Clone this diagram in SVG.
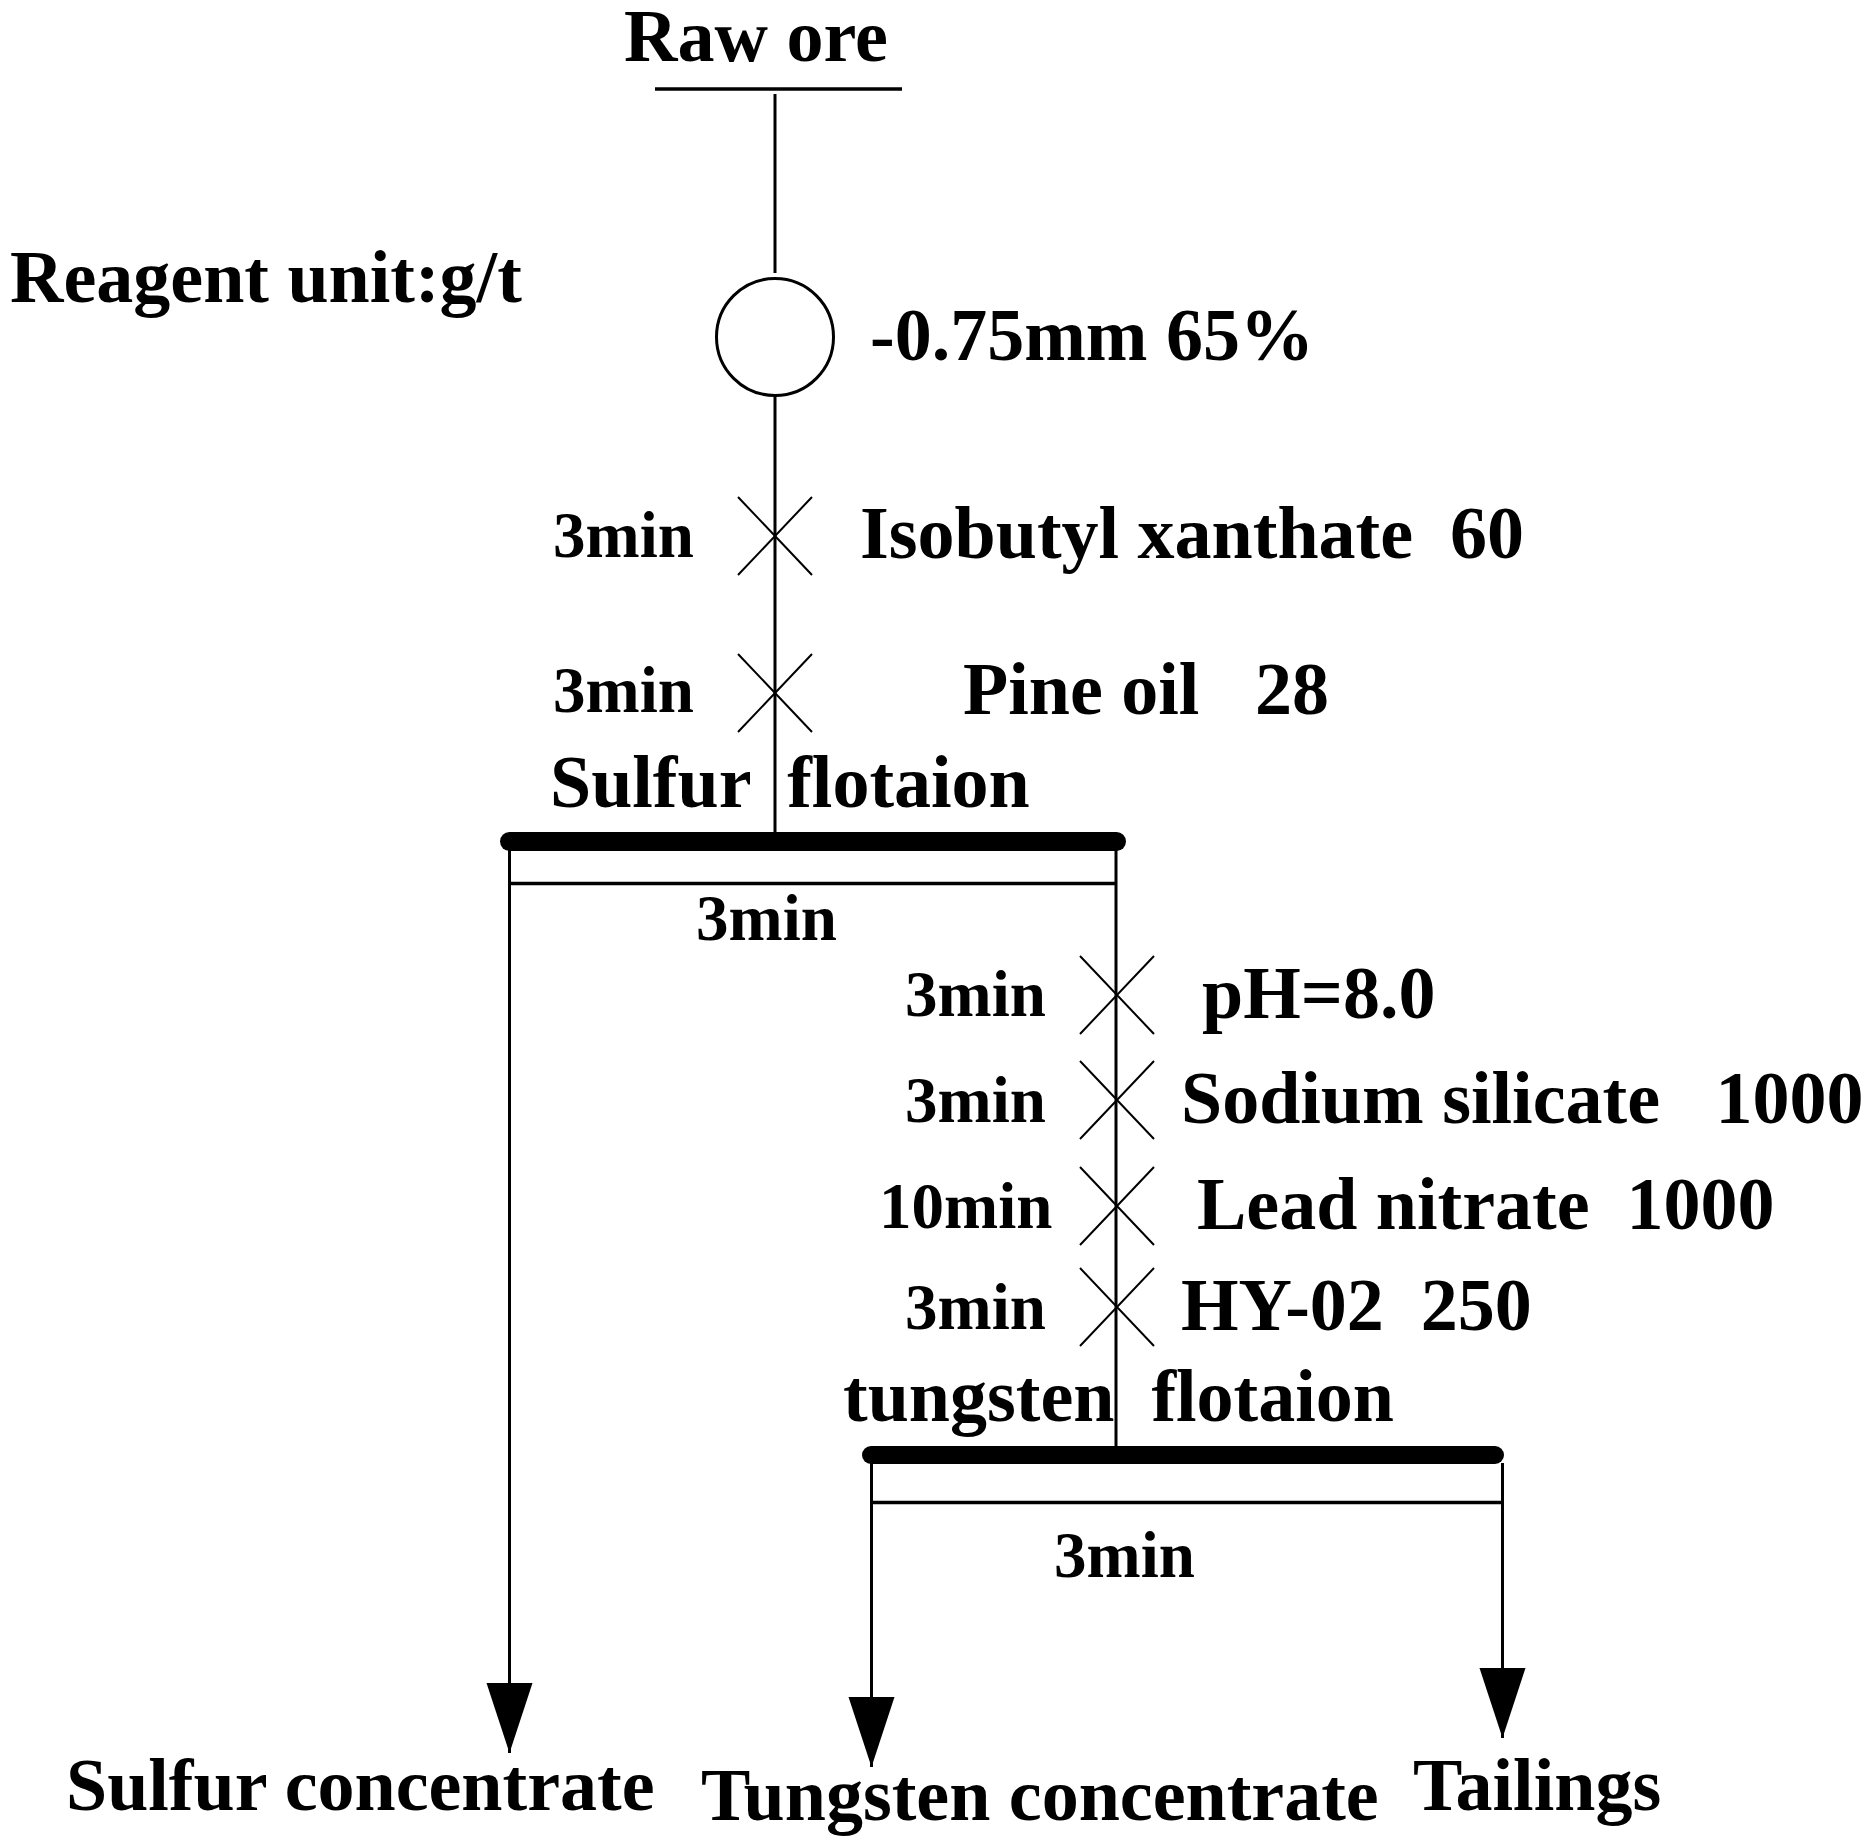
<svg xmlns="http://www.w3.org/2000/svg" xmlns:xlink="http://www.w3.org/1999/xlink" width="1874" height="1846" viewBox="0 0 1874 1846">
<style>
text{font-family:"Liberation Serif","Times New Roman",serif;font-weight:bold;font-size:74px;fill:#000}
text.t{font-size:65px}
.ln{stroke:#000;stroke-width:3;fill:none}
.sub{stroke:#000;stroke-width:3.5;fill:none}
.bar{fill:#000}
</style>
<defs>
<path id="xm" d="M-37,-39 L37,39 M37,-39 L-37,39" stroke="#000" stroke-width="2" fill="none"/>
<marker id="ah" markerUnits="userSpaceOnUse" markerWidth="48" markerHeight="72" viewBox="0 0 48 72" refX="24" refY="70" orient="0">
<path d="M1,0 L47,0 L24,70 Z" fill="#000"/>
</marker>
</defs>
<rect width="1874" height="1846" fill="#fff"/>
<text x="10" y="302">Reagent unit:g/t</text>
<g id="raw-ore">
<text x="624" y="61">Raw ore</text>
<line x1="655" y1="89" x2="902" y2="89" class="sub"/>
</g>
<g id="grinding">
<circle cx="775" cy="337" r="58.5" class="ln"/>
<text x="870" y="360">-0.75mm 65%</text>
</g>
<g id="reagent1">
<use xlink:href="#xm" x="775" y="536"/>
<text class="t" x="553" y="557">3min</text>
<text x="860" y="558" xml:space="preserve">Isobutyl xanthate  60</text>
</g>
<g id="reagent2">
<use xlink:href="#xm" x="775" y="693"/>
<text class="t" x="553" y="712">3min</text>
<text x="963" y="714" xml:space="preserve">Pine oil   28</text>
</g>
<g id="sulfur-flotation">
<text x="550" y="807" xml:space="preserve">Sulfur  flotaion</text>
<rect class="bar" x="500" y="832" width="626" height="19" rx="9.5"/>
<line x1="509.5" y1="883.5" x2="1116" y2="883.5" class="sub"/>
<text class="t" x="696" y="940">3min</text>
</g>
<g id="reagent3">
<use xlink:href="#xm" x="1117" y="995"/>
<text class="t" x="905" y="1016">3min</text>
<text x="1202" y="1018">pH=8.0</text>
</g>
<g id="reagent4">
<use xlink:href="#xm" x="1117" y="1100"/>
<text class="t" x="905" y="1122">3min</text>
<text x="1181" y="1123" xml:space="preserve">Sodium silicate   1000</text>
</g>
<g id="reagent5">
<use xlink:href="#xm" x="1117" y="1206"/>
<text class="t" x="879" y="1228">10min</text>
<text x="1197" y="1229" xml:space="preserve">Lead nitrate  1000</text>
</g>
<g id="reagent6">
<use xlink:href="#xm" x="1117" y="1307"/>
<text class="t" x="905" y="1329">3min</text>
<text x="1181" y="1330" xml:space="preserve">HY-02  250</text>
</g>
<g id="tungsten-flotation">
<text x="843" y="1421" xml:space="preserve">tungsten  flotaion</text>
<rect class="bar" x="862" y="1446" width="642" height="18" rx="9"/>
<line x1="871.5" y1="1502.5" x2="1502.5" y2="1502.5" class="sub"/>
<text class="t" x="1054" y="1577">3min</text>
</g>
<g id="sulfur-concentrate"><text x="66" y="1810">Sulfur concentrate</text></g>
<g id="tungsten-concentrate"><text x="701" y="1820">Tungsten concentrate</text></g>
<g id="tailings"><text x="1413" y="1810">Tailings</text></g>
<g id="connectors">
<line x1="775" y1="94" x2="775" y2="273" class="ln"/>
<line x1="775" y1="396" x2="775" y2="833" class="ln"/>
<line x1="509.5" y1="850" x2="509.5" y2="1753" class="ln" marker-end="url(#ah)"/>
<line x1="1116" y1="850" x2="1116" y2="1447" class="ln"/>
<line x1="871.5" y1="1463" x2="871.5" y2="1767" class="ln" marker-end="url(#ah)"/>
<line x1="1502.5" y1="1463" x2="1502.5" y2="1738" class="ln" marker-end="url(#ah)"/>
</g>
</svg>
